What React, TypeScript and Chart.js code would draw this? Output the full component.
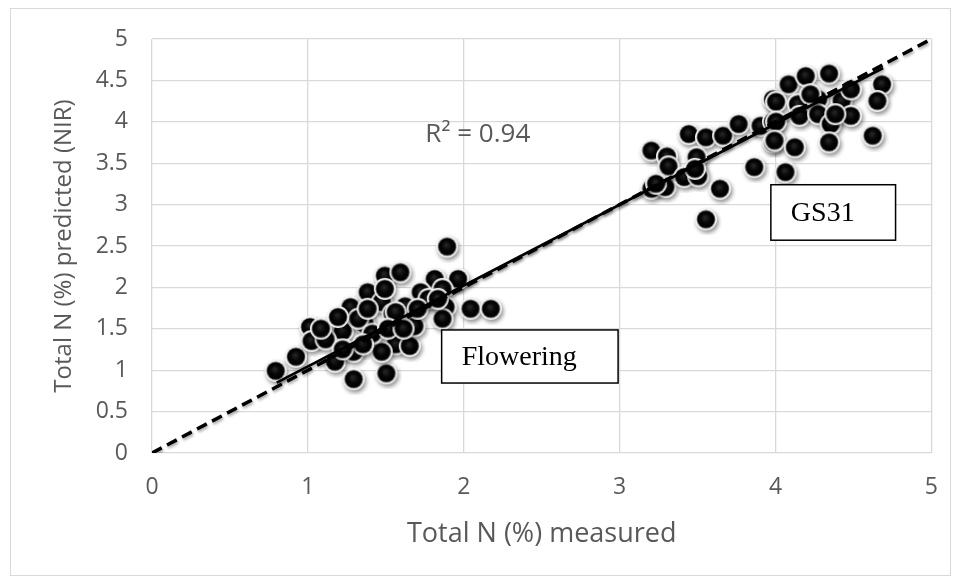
import React, { useEffect, useRef } from 'react';
import { Chart, registerables } from 'chart.js';

Chart.register(...registerables);

// ---- data ----
const floweringX = [0.80, 0.93, 1.02, 1.03, 1.18, 1.30, 1.51, 1.23, 1.28, 1.39, 1.50, 1.60, 1.48, 1.37, 1.55, 1.57, 1.66, 1.48, 1.30, 1.12, 1.09, 1.63, 1.90, 1.82, 1.97, 1.73, 1.87, 1.89, 2.05, 2.18, 1.87, 1.69, 1.57, 1.50, 1.33, 1.42, 1.52, 1.36, 1.23, 1.78, 1.20, 1.71, 1.62, 1.39, 1.84];
const floweringY = [0.98, 1.15, 1.51, 1.34, 1.09, 0.88, 0.95, 1.46, 1.75, 1.93, 2.13, 2.17, 1.81, 1.55, 1.67, 1.30, 1.28, 1.21, 1.21, 1.36, 1.49, 1.76, 2.48, 2.09, 2.09, 1.93, 1.97, 1.75, 1.73, 1.73, 1.61, 1.52, 1.69, 1.97, 1.61, 1.43, 1.49, 1.30, 1.24, 1.85, 1.63, 1.73, 1.49, 1.73, 1.85];
const gs31X = [3.21, 3.31, 3.32, 3.21, 3.30, 3.45, 3.56, 3.67, 3.77, 3.50, 3.42, 3.51, 3.65, 3.56, 3.87, 3.91, 3.99, 3.99, 3.99, 4.09, 4.20, 4.35, 4.01, 4.15, 4.28, 4.43, 4.49, 4.69, 4.66, 4.01, 4.16, 4.28, 4.36, 4.49, 4.00, 4.13, 4.35, 4.63, 4.07, 3.24, 3.49, 4.23, 4.39];
const gs31Y = [3.64, 3.57, 3.45, 3.18, 3.20, 3.84, 3.80, 3.82, 3.96, 3.56, 3.32, 3.33, 3.18, 2.81, 3.44, 3.94, 3.99, 4.26, 3.74, 4.44, 4.54, 4.57, 4.23, 4.20, 4.26, 4.24, 4.38, 4.44, 4.24, 3.99, 4.06, 4.08, 3.96, 4.06, 3.76, 3.68, 3.74, 3.82, 3.38, 3.24, 3.42, 4.32, 4.08];
const fitX = [0.8, 4.69];
const fitY = [0.85, 4.65];
const oneToOneX = [0, 5];
const oneToOneY = [0, 5];
const xTitle = 'Total N (%) measured';
const yTitle = 'Total N (%) predicted (NIR)';
const r2Label = 'R² = 0.94';
const groupLabels = ['Flowering', 'GS31'];

// ---- annotation layout (data coordinates) ----
const r2Pos = { x: 2.09, y: 3.84 };
const boxes = [
  { x0: 1.858, x1: 2.99, y0: 0.845, y1: 1.486 },
  { x0: 3.97, x1: 4.77, y0: 2.57, y1: 3.24 },
];

const FONT = '"Open Sans", Lato, sans-serif';
const GREY = '#595959';

function pts(xs: number[], ys: number[]) {
  return xs.map((x, i) => ({ x, y: ys[i] }));
}

function makeBall(): HTMLCanvasElement {
  const c = document.createElement('canvas');
  c.width = 30;
  c.height = 30;
  const g = c.getContext('2d')!;
  const cx = 14, cy = 14;
  g.save();
  g.shadowColor = 'rgba(0,0,0,0.45)';
  g.shadowBlur = 4;
  g.shadowOffsetX = 1.5;
  g.shadowOffsetY = 2.5;
  g.beginPath();
  g.arc(cx, cy, 11, 0, Math.PI * 2);
  g.fillStyle = '#f4f4f4';
  g.fill();
  g.restore();
  g.beginPath();
  g.arc(cx, cy, 9.6, 0, Math.PI * 2);
  g.fillStyle = '#9a9a9a';
  g.fill();
  const grad = g.createRadialGradient(cx - 1, cy - 2, 0, cx, cy, 9);
  grad.addColorStop(0, '#2a2a2a');
  grad.addColorStop(0.5, '#080808');
  grad.addColorStop(0.85, '#000000');
  grad.addColorStop(1, '#1c1c1c');
  g.beginPath();
  g.arc(cx, cy, 8.8, 0, Math.PI * 2);
  g.fillStyle = grad;
  g.fill();
  return c;
}

export default function App() {
  const ref = useRef<HTMLCanvasElement | null>(null);

  useEffect(() => {
    document.body.style.margin = '0';
    const canvas = ref.current!;
    const ball = makeBall();

    const decor = {
      id: 'decor',
      beforeDraw(chart: any) {
        const ctx = chart.ctx;
        ctx.save();
        ctx.fillStyle = '#ffffff';
        ctx.fillRect(0, 0, chart.width, chart.height);
        ctx.strokeStyle = '#d9d9d9';
        ctx.lineWidth = 1;
        ctx.strokeRect(10.5, 8.5, 940, 567);
        ctx.restore();
      },
      beforeDatasetDraw(chart: any, args: any) {
        const ctx = chart.ctx;
        ctx.save();
        if (args.index < 2) {
          ctx.shadowColor = 'rgba(0,0,0,0.35)';
          ctx.shadowBlur = 3;
          ctx.shadowOffsetX = 1;
          ctx.shadowOffsetY = 2;
        }
      },
      afterDatasetDraw(chart: any) {
        chart.ctx.restore();
      },
      afterDraw(chart: any) {
        const ctx = chart.ctx;
        const xs = chart.scales.x, ys = chart.scales.y;
        ctx.save();
        ctx.fillStyle = GREY;
        ctx.font = `26px ${FONT}`;
        ctx.textAlign = 'center';
        ctx.textBaseline = 'middle';
        ctx.fillText(r2Label, xs.getPixelForValue(r2Pos.x), ys.getPixelForValue(r2Pos.y));
        boxes.forEach((b, i) => {
          const l = xs.getPixelForValue(b.x0), r = xs.getPixelForValue(b.x1);
          const t = ys.getPixelForValue(b.y1), btm = ys.getPixelForValue(b.y0);
          ctx.fillStyle = '#ffffff';
          ctx.fillRect(l, t, r - l, btm - t);
          ctx.strokeStyle = '#000000';
          ctx.lineWidth = 1.5;
          ctx.strokeRect(l, t, r - l, btm - t);
          ctx.fillStyle = '#000000';
          ctx.font = `28px "Liberation Serif", "Times New Roman", serif`;
          ctx.textAlign = 'left';
          ctx.fillText(groupLabels[i], l + 20, (t + btm) / 2 + 1);
        });
        ctx.restore();
      },
    };

    const chart = new Chart(canvas, {
      type: 'scatter',
      data: {
        datasets: [
          {
            label: 'fit',
            data: pts(fitX, fitY),
            showLine: true,
            borderColor: '#000000',
            borderWidth: 2.8,
            pointRadius: 0,
            order: 0,
          },
          {
            label: '1:1',
            data: pts(oneToOneX, oneToOneY),
            showLine: true,
            borderColor: '#000000',
            borderWidth: 3.5,
            borderDash: [11, 6],
            pointRadius: 0,
            order: 1,
          },
          {
            label: 'GS31',
            data: pts(gs31X, gs31Y),
            pointStyle: ball as any,
            pointRadius: 11,
            order: 2,
          },
          {
            label: 'Flowering',
            data: pts(floweringX, floweringY),
            pointStyle: ball as any,
            pointRadius: 11,
            order: 3,
          },
        ],
      },
      options: {
        animation: false,
        responsive: false,
        maintainAspectRatio: false,
        layout: { padding: { left: 0, right: 24, top: 39, bottom: 0 } },
        plugins: { legend: { display: false }, tooltip: { enabled: false } },
        scales: {
          x: {
            type: 'linear',
            min: 0,
            max: 5,
            afterFit: (s: any) => { s.height = 128; },
            ticks: { stepSize: 1, padding: 21, color: GREY, font: { family: FONT, size: 23 }, callback: (v: any) => String(v) },
            grid: { color: '#d9d9d9', lineWidth: 1.3, drawTicks: false },
            border: { display: false },
            title: { display: true, text: xTitle, color: GREY, font: { family: FONT, size: 27 }, padding: { top: 0, bottom: 30 } },
          },
          y: {
            type: 'linear',
            min: 0,
            max: 5,
            afterFit: (s: any) => { s.width = 152; },
            ticks: { stepSize: 0.5, padding: 24, color: GREY, font: { family: FONT, size: 23 }, callback: (v: any) => String(v) },
            grid: { color: '#d9d9d9', lineWidth: 1.3, drawTicks: false },
            border: { display: false },
            title: { display: true, text: yTitle, color: GREY, font: { family: FONT, size: 24 }, padding: { top: 50, bottom: 0 } },
          },
        },
      },
      plugins: [decor],
    } as any);

    return () => chart.destroy();
  }, []);

  return (
    <div style={{ position: 'absolute', left: 0, top: 0, width: 959, height: 581 }}>
      <canvas ref={ref} width={959} height={581} style={{ display: 'block', width: 959, height: 581 }} />
    </div>
  );
}
